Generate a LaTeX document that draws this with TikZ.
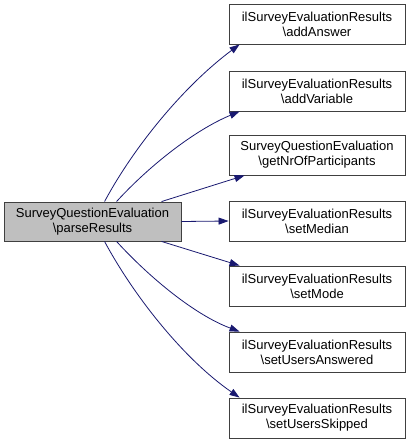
\documentclass[tikz,border=0pt]{standalone}
\usepackage{fontspec}
\setmainfont{Liberation Sans}
\usetikzlibrary{arrows.meta}
\definecolor{edgeblue}{HTML}{191970}
\definecolor{boxgray}{HTML}{BFBFBF}
\definecolor{boxline}{HTML}{404040}
\begin{document}
\begin{tikzpicture}[x=1pt,y=-1pt,
  fn/.style={draw=boxline, line width=0.9pt, fill=white, align=center, inner sep=0pt,
    minimum width=176pt, minimum height=40pt, font=\fontsize{13}{15}\selectfont},
  mainfn/.style={fn, fill=boxgray, minimum width=177pt, minimum height=39pt},
  call/.style={draw=edgeblue, line width=0.8pt, -{Triangle[length=10pt,width=7pt]}}]
\useasboundingbox (0,0) rectangle (411,444);
\node[mainfn] (m) at (92.5,221.5) {SurveyQuestionEvaluation\\\textbackslash parseResults};
\node[fn] (a) at (317,24) {ilSurveyEvaluationResults\\\textbackslash addAnswer};
\node[fn] (b) at (317,91) {ilSurveyEvaluationResults\\\textbackslash addVariable};
\node[fn] (c) at (317,155) {SurveyQuestionEvaluation\\\textbackslash getNrOfParticipants};
\node[fn] (d) at (317,221) {ilSurveyEvaluationResults\\\textbackslash setMedian};
\node[fn] (e) at (317,286) {ilSurveyEvaluationResults\\\textbackslash setMode};
\node[fn] (f) at (317,352) {ilSurveyEvaluationResults\\\textbackslash setUsersAnswered};
\node[fn] (g) at (317,418) {ilSurveyEvaluationResults\\\textbackslash setUsersSkipped};
\draw[call] ([xshift=101pt]m.north west) .. controls (135,145) and (185,85) .. ([xshift=11pt]a.south west);
\draw[call] ([xshift=113pt]m.north west) .. controls (150,165) and (195,130) .. ([xshift=11pt]b.south west);
\draw[call] ([xshift=158pt]m.north west) -- ([xshift=16pt]c.south west);
\draw[call] (m.east) -- (d.west);
\draw[call] ([xshift=158pt]m.south west) -- ([xshift=11pt]e.north west);
\draw[call] ([xshift=113pt]m.south west) .. controls (150,278) and (195,315) .. ([xshift=11pt]f.north west);
\draw[call] ([xshift=101pt]m.south west) .. controls (135,298) and (185,360) .. ([xshift=11pt]g.north west);
\end{tikzpicture}
\end{document}
